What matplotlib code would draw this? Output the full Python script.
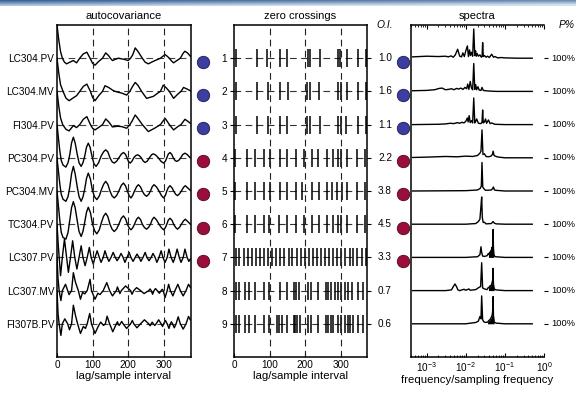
import matplotlib

matplotlib.use("Agg")

import matplotlib.pyplot as plt
import numpy as np

plt.rcParams.update(
    {
        "font.family": ["Liberation Sans", "DejaVu Sans"],
        "font.size": 7,
        "axes.linewidth": 1.1,
        "xtick.major.width": 0.8,
        "ytick.major.width": 0.8,
    }
)

# --- channel table ---------------------------------------------------------
TAGS = ["LC304.PV", "LC304.MV", "FI304.PV", "PC304.PV", "PC304.MV",
        "TC304.PV", "LC307.PV", "LC307.MV", "FI307B.PV"]
OI = ["1.0", "1.6", "1.1", "2.2", "3.8", "4.5", "3.3", "0.7", "0.6"]
PCT = ["100%"] * 9
CLUSTER = ["blue", "blue", "blue", "red", "red", "red", "red", None, None]

# --- autocovariance (lag, normalised value) -------------------------------
ACF1_LAG = [0, 5, 10, 15, 21, 27, 36, 46, 55, 64, 74, 84, 93, 100, 107, 117, 128, 137, 145, 150,
            156, 165, 173, 182, 191, 200, 207, 213, 220, 228, 240, 248, 257, 266, 276, 291, 304, 310,
            316, 322, 328, 336, 347, 355, 360, 368, 375]
ACF1_VAL = [1.0, 0.55, 0.2, 0.0, -0.12, -0.17, -0.12, -0.07, -0.14, 0.0, 0.13, 0.18, 0.0, -0.15,
            -0.21, -0.1, 0.0, 0.16, 0.08, 0.0, -0.07, -0.03, 0.0, -0.02, -0.04, -0.07, 0.0, 0.1, 0.31,
            0.2, 0.0, -0.12, -0.17, -0.12, -0.07, 0.0, 0.11, 0.06, 0.0, -0.08, -0.14, -0.08, 0.0, 0.15,
            0.21, 0.15, 0.06]
ACF2_LAG = [0, 5, 10, 17, 25, 34, 45, 55, 64, 74, 84, 94, 100, 107, 118, 128, 135, 145, 159, 170,
            182, 196, 205, 212, 220, 228, 238, 252, 271, 285, 291, 299, 308, 316, 328, 340, 349, 356,
            366, 375]
ACF2_VAL = [1.0, 0.55, 0.2, 0.0, -0.2, -0.28, -0.2, -0.13, 0.0, 0.15, 0.22, 0.0, -0.18, -0.28,
            -0.12, 0.0, 0.17, 0.12, 0.02, -0.02, -0.05, -0.11, 0.0, 0.14, 0.27, 0.18, 0.0, -0.21,
            -0.15, -0.04, 0.0, 0.19, 0.1, 0.0, -0.21, -0.08, 0.0, 0.12, 0.07, 0.02]
ACF3_LAG = [0, 5, 10, 16, 25, 34, 46, 55, 64, 74, 84, 94, 100, 107, 118, 128, 137, 145, 156, 170,
            182, 196, 205, 212, 220, 228, 240, 257, 276, 291, 304, 310, 316, 328, 340, 349, 360, 368,
            375]
ACF3_VAL = [1.0, 0.55, 0.2, 0.0, -0.14, -0.19, -0.03, -0.09, 0.0, 0.16, 0.24, 0.0, -0.11, -0.16,
            -0.08, 0.0, 0.17, 0.09, -0.07, -0.05, -0.06, -0.11, 0.0, 0.12, 0.29, 0.18, 0.0, -0.21,
            -0.1, 0.0, 0.19, 0.1, 0.0, -0.16, -0.06, 0.0, 0.16, 0.1, 0.04]
ACF4_LAG = [0, 4, 8, 12, 17, 25, 31, 36, 41, 46, 51, 57, 62, 68, 73, 78, 83, 88, 93, 99,
            104, 110, 117, 124, 131, 137, 143, 149, 155, 161, 168, 174, 181, 187, 193, 197, 201, 206,
            211, 216, 222, 227, 232, 237, 243, 248, 254, 260, 266, 271, 278, 285, 293, 300, 305, 309,
            313, 318, 323, 327, 332, 337, 343, 348, 354, 360, 366, 375]
ACF4_VAL = [1.0, 0.6, 0.2, -0.08, -0.22, -0.28, -0.15, 0.1, 0.45, 0.62, 0.45, 0.1, -0.15, -0.26,
            -0.15, 0.05, 0.32, 0.44, 0.32, 0.02, -0.18, -0.26, -0.15, 0.05, 0.18, 0.24, 0.18, 0.0,
            -0.12, -0.16, -0.1, 0.0, 0.11, 0.16, 0.1, 0.0, -0.11, -0.16, -0.1, 0.0, 0.07, 0.09, 0.06,
            0.0, -0.1, -0.14, -0.1, 0.0, 0.09, 0.12, 0.08, 0.0, -0.11, -0.16, -0.1, 0.0, 0.11, 0.16,
            0.1, 0.0, -0.08, -0.11, -0.07, 0.0, 0.1, 0.14, 0.1, 0.0]
ACF5_LAG = [0, 4, 8, 12, 17, 25, 31, 36, 41, 46, 51, 57, 62, 68, 73, 78, 83, 88, 94, 100,
            106, 112, 119, 125, 131, 137, 143, 149, 155, 161, 168, 174, 181, 187, 193, 198, 203, 208,
            213, 218, 224, 229, 235, 240, 246, 252, 258, 263, 268, 273, 280, 287, 294, 300, 305, 309,
            313, 318, 324, 328, 334, 339, 345, 350, 356, 361, 367, 375]
ACF5_VAL = [1.0, 0.6, 0.2, -0.1, -0.25, -0.31, -0.17, 0.12, 0.52, 0.74, 0.52, 0.12, -0.17, -0.31,
            -0.18, 0.06, 0.38, 0.54, 0.36, 0.0, -0.18, -0.26, -0.15, 0.04, 0.2, 0.29, 0.2, 0.0, -0.15,
            -0.21, -0.13, 0.0, 0.17, 0.24, 0.15, 0.0, -0.14, -0.21, -0.13, 0.0, 0.13, 0.19, 0.12, 0.0,
            -0.11, -0.16, -0.1, 0.0, 0.13, 0.19, 0.12, 0.0, -0.14, -0.21, -0.13, 0.0, 0.1, 0.16, 0.09,
            0.0, -0.1, -0.14, -0.08, 0.0, 0.11, 0.16, 0.1, 0.02]
ACF6_LAG = ACF5_LAG
ACF6_VAL = [1.0, 0.55, 0.1, -0.25, -0.4, -0.45, -0.25, 0.12, 0.5, 0.68, 0.5, 0.1, -0.22, -0.37,
            -0.22, 0.06, 0.36, 0.51, 0.35, 0.0, -0.2, -0.29, -0.17, 0.05, 0.24, 0.33, 0.23, 0.0,
            -0.15, -0.22, -0.14, 0.0, 0.18, 0.25, 0.16, 0.0, -0.11, -0.17, -0.11, 0.0, 0.15, 0.21,
            0.14, 0.0, -0.1, -0.15, -0.09, 0.0, 0.14, 0.21, 0.13, 0.0, -0.11, -0.17, -0.1, 0.0, 0.12,
            0.18, 0.11, 0.0, -0.1, -0.15, -0.09, 0.0, 0.1, 0.15, 0.09, 0.0]
ACF7_LAG = [0, 4, 10, 15, 21, 27, 32, 38, 44, 50, 56, 62, 68, 73, 79, 85, 91, 96, 102, 107,
            113, 119, 124, 130, 135, 141, 146, 152, 158, 164, 169, 175, 180, 186, 191, 197, 203, 208,
            214, 220, 225, 231, 236, 242, 248, 253, 259, 265, 270, 276, 281, 287, 293, 298, 304, 310,
            315, 321, 327, 332, 338, 344, 349, 355, 360, 366, 371, 375]
ACF7_VAL = [1.0, 0.3, -0.55, 0.0, 0.55, 0.0, -0.45, 0.0, 0.5, 0.0, -0.35, 0.0, 0.35, 0.0, -0.25,
            0.0, 0.3, 0.0, -0.2, 0.0, 0.2, 0.0, -0.15, 0.0, 0.2, 0.0, -0.12, 0.0, 0.15, 0.0, -0.1, 0.0,
            0.12, 0.0, -0.15, 0.0, 0.15, 0.0, -0.12, 0.0, 0.1, 0.0, -0.12, 0.0, 0.15, 0.0, -0.1, 0.0,
            0.12, 0.0, -0.15, 0.0, 0.2, 0.0, -0.15, 0.0, 0.25, 0.0, -0.15, 0.0, 0.25, 0.0, -0.15, 0.0,
            0.25, 0.0, -0.12, -0.05]
ACF8_LAG = [0, 3, 6, 11, 15, 24, 30, 34, 41, 46, 52, 60, 66, 72, 78, 85, 93, 97, 107, 115,
            121, 130, 140, 148, 156, 167, 170, 174, 177, 181, 193, 207, 211, 216, 224, 235, 245, 258,
            262, 265, 269, 273, 277, 282, 288, 293, 296, 299, 304, 310, 314, 319, 326, 332, 340, 347,
            355, 363, 370, 375]
ACF8_VAL = [1.0, 0.35, 0.0, -0.3, 0.0, 0.19, 0.0, -0.12, 0.0, 0.54, 0.25, 0.0, -0.26, -0.05,
            -0.1, 0.0, 0.34, 0.0, -0.26, -0.08, -0.12, 0.0, 0.24, 0.0, -0.16, 0.0, 0.11, 0.0, -0.09,
            0.0, 0.14, 0.0, -0.11, 0.0, 0.09, 0.0, -0.09, 0.0, 0.05, 0.0, -0.11, 0.0, 0.06, 0.0, -0.08,
            0.0, 0.04, 0.0, -0.21, 0.0, 0.19, 0.0, -0.16, 0.0, 0.19, 0.0, -0.16, 0.0, 0.19, 0.1]
ACF9_LAG = [0, 3, 6, 11, 15, 22, 30, 35, 41, 46, 52, 58, 66, 74, 80, 85, 92, 97, 107, 115,
            120, 123, 127, 131, 136, 141, 148, 157, 167, 170, 172, 175, 178, 182, 186, 196, 207, 212,
            216, 225, 235, 246, 258, 262, 265, 268, 271, 275, 279, 286, 293, 297, 300, 305, 310, 315,
            319, 322, 325, 330, 335, 341, 347, 355, 363, 370, 375]
ACF9_VAL = [1.0, 0.3, 0.0, -0.35, 0.0, 0.15, 0.0, -0.18, 0.0, 0.56, 0.25, 0.0, -0.29, -0.08,
            -0.14, 0.0, 0.31, 0.0, -0.29, -0.1, 0.0, 0.05, 0.0, -0.05, 0.0, 0.23, 0.0, -0.24, 0.0,
            0.06, 0.0, -0.05, 0.0, 0.07, 0.0, -0.14, 0.0, 0.1, 0.0, -0.12, 0.0, 0.12, 0.0, -0.06, 0.0,
            0.05, 0.0, -0.05, 0.0, 0.12, 0.0, -0.08, 0.0, 0.1, 0.0, -0.14, 0.0, 0.06, 0.0, -0.12, 0.0,
            0.21, 0.0, -0.16, 0.0, 0.22, 0.12]

# --- zero-crossing lags ---------------------------------------------------
ZC1 = [5, 64, 93, 128, 149, 207, 213, 240, 291, 298, 316, 347, 370]
ZC2 = [5, 64, 94, 128, 151, 205, 212, 238, 291, 300, 316, 349, 370]
ZC3 = [5, 64, 94, 128, 150, 205, 212, 240, 291, 299, 314, 349, 370]
ZC4 = [4, 36, 58, 85, 102, 128, 148, 174, 195, 218, 235, 260, 277, 291, 300, 316, 344, 368]
ZC5 = [4, 36, 60, 85, 100, 128, 148, 174, 192, 218, 237, 260, 274, 288, 302, 316, 344, 368]
ZC6 = [4, 36, 60, 85, 99, 125, 148, 174, 195, 218, 239, 260, 279, 291, 300, 316, 344, 368]
ZC7 = [5, 15, 27, 38, 50, 61, 73, 84, 95, 107, 119, 130, 141, 153, 164, 176, 187, 198, 210, 221,
       233, 244, 256, 267, 278, 290, 301, 312, 324, 335, 346, 358, 369]
ZC8 = [6, 15, 30, 41, 60, 85, 97, 130, 148, 167, 174, 181, 207, 216, 235, 258, 265, 273, 282, 293,
       299, 310, 319, 332, 347, 363]
ZC9 = [6, 15, 30, 41, 58, 85, 97, 120, 127, 136, 148, 167, 172, 178, 186, 207, 216, 235, 258, 265,
       271, 279, 293, 300, 310, 319, 325, 335, 347, 363]

# --- power spectra (frequency/sampling frequency, normalised power) ------
SP1_F = [4.4e-4, 1e-3, 2e-3, 3e-3, 3.6e-3, 4.2e-3, 4.8e-3, 5.4e-3, 6.2e-3, 7e-3, 7.8e-3, 8.4e-3,
         9.2e-3, 1.0e-2, 1.1e-2, 1.17e-2, 1.25e-2, 1.32e-2, 1.4e-2, 1.5e-2, 1.6e-2, 1.7e-2,
         1.78e-2, 1.85e-2, 1.95e-2, 2.1e-2, 2.3e-2, 2.5e-2, 2.62e-2, 2.7e-2, 2.8e-2, 3.0e-2, 3.3e-2,
         3.6e-2, 4.0e-2, 4.6e-2, 5.1e-2, 5.6e-2, 6.5e-2, 8e-2, 0.1, 0.2, 0.5]
SP1_P = [0.04, 0.06, 0.05, 0.06, 0.04, 0.07, 0.03, 0.1, 0.27, 0.06, 0.04, 0.16, 0.05, 0.22, 0.37,
         0.05, 0.25, 0.08, 0.18, 0.06, 0.88, 0.08, 0.22, 0.06, 0.14, 0.06, 0.1, 0.03, 0.06, 0.47,
         0.05, 0.08, 0.03, 0.06, 0.02, 0.12, 0.03, 0.05, 0.01, 0.02, 0.01, 0.0, 0.0]
SP2_F = [4.4e-4, 1e-3, 1.6e-3, 2.1e-3, 2.5e-3, 3e-3, 3.6e-3, 4.3e-3, 5e-3, 5.8e-3, 6.6e-3, 7.5e-3,
         8.5e-3, 9.5e-3, 1.05e-2, 1.12e-2, 1.2e-2, 1.3e-2, 1.4e-2, 1.5e-2, 1.6e-2, 1.7e-2, 1.8e-2,
         1.9e-2, 2.05e-2, 2.2e-2, 2.45e-2, 2.6e-2, 2.8e-2, 3.2e-2, 4e-2, 6e-2, 0.1, 0.5]
SP2_P = [0.02, 0.03, 0.05, 0.09, 0.1, 0.05, 0.06, 0.08, 0.05, 0.09, 0.07, 0.1, 0.06, 0.12, 0.08,
         0.22, 0.06, 0.3, 0.1, 0.05, 0.84, 0.06, 0.2, 0.05, 0.14, 0.04, 0.03, 0.12, 0.03, 0.02,
         0.01, 0.0, 0.0, 0.0]
SP3_F = [4.4e-4, 2e-3, 3e-3, 4e-3, 5e-3, 6e-3, 7e-3, 8e-3, 9e-3, 1.0e-2, 1.1e-2, 1.15e-2, 1.22e-2,
         1.3e-2, 1.4e-2, 1.5e-2, 1.6e-2, 1.7e-2, 1.8e-2, 1.9e-2, 2.1e-2, 2.4e-2, 2.6e-2, 2.7e-2,
         2.8e-2, 3.0e-2, 3.2e-2, 3.4e-2, 3.8e-2, 4.2e-2, 4.6e-2, 5.5e-2, 0.1, 0.5]
SP3_P = [0.0, 0.01, 0.02, 0.04, 0.03, 0.06, 0.04, 0.07, 0.05, 0.1, 0.2, 0.08, 0.27, 0.06, 0.12,
         0.05, 0.8, 0.05, 0.1, 0.17, 0.04, 0.03, 0.06, 0.44, 0.05, 0.08, 0.17, 0.04, 0.14, 0.03,
         0.05, 0.01, 0.0, 0.0]
SP4_F = [4.4e-4, 1e-3, 3e-3, 6e-3, 1e-2, 1.5e-2, 2e-2, 2.3e-2, 2.45e-2, 2.6e-2, 2.75e-2, 3e-2,
         3.3e-2, 3.8e-2, 4.4e-2, 4.8e-2, 5.0e-2, 5.3e-2, 5.7e-2, 6.3e-2, 7e-2, 0.1, 0.5]
SP4_P = [0.01, 0.02, 0.04, 0.03, 0.05, 0.04, 0.07, 0.14, 0.2, 0.84, 0.1, 0.12, 0.04, 0.03, 0.05,
         0.1, 0.2, 0.07, 0.05, 0.03, 0.02, 0.0, 0.0]
SP5_F = [4.4e-4, 1e-2, 2e-2, 2.35e-2, 2.5e-2, 2.6e-2, 2.72e-2, 2.9e-2, 3.2e-2, 4.5e-2, 4.9e-2,
         5.1e-2, 5.4e-2, 6e-2, 0.1, 0.5]
SP5_P = [0.0, 0.01, 0.03, 0.08, 0.15, 0.86, 0.12, 0.07, 0.02, 0.03, 0.08, 0.12, 0.03, 0.02, 0.0,
         0.0]
SP6_F = [4.4e-4, 1e-2, 1.8e-2, 2.1e-2, 2.3e-2, 2.45e-2, 2.55e-2, 2.65e-2, 2.8e-2, 3.0e-2, 3.3e-2,
         4.5e-2, 5e-2, 5.4e-2, 6e-2, 0.1, 0.5]
SP6_P = [0.0, 0.0, 0.02, 0.08, 0.15, 0.55, 0.82, 0.2, 0.05, 0.06, 0.01, 0.02, 0.08, 0.03, 0.01,
         0.0, 0.0]
SP7_F = [4.4e-4, 1e-2, 2e-2, 2.3e-2, 2.45e-2, 2.55e-2, 2.7e-2, 3e-2, 3.5e-2, 3.8e-2, 4.0e-2,
         4.1e-2, 4.2e-2, 4.3e-2, 4.4e-2, 4.5e-2, 4.6e-2, 4.7e-2, 4.8e-2, 4.9e-2, 5.0e-2, 5.1e-2,
         5.2e-2, 5.4e-2, 5.8e-2, 0.1, 0.5]
SP7_P = [0.0, 0.0, 0.02, 0.08, 0.32, 0.15, 0.04, 0.03, 0.05, 0.12, 0.08, 0.15, 0.1, 0.18, 0.12,
         0.22, 0.15, 0.3, 0.2, 0.45, 0.84, 0.3, 0.1, 0.04, 0.02, 0.0, 0.0]
SP8_F = [4.4e-4, 3e-3, 4.3e-3, 4.8e-3, 5.3e-3, 5.8e-3, 6.3e-3, 7e-3, 9e-3, 1.0e-2, 1.2e-2, 1.3e-2,
         1.8e-2, 2.2e-2, 2.4e-2, 2.55e-2, 2.7e-2, 3e-2, 3.5e-2, 3.8e-2, 4.0e-2, 4.2e-2, 4.4e-2,
         4.6e-2, 4.8e-2, 4.9e-2, 5.0e-2, 5.1e-2, 5.3e-2, 6e-2, 0.1, 0.5]
SP8_P = [0.0, 0.0, 0.02, 0.12, 0.2, 0.12, 0.02, 0.0, 0.04, 0.01, 0.05, 0.01, 0.03, 0.1, 0.12, 0.84,
         0.08, 0.05, 0.03, 0.1, 0.08, 0.15, 0.12, 0.2, 0.28, 0.35, 0.67, 0.2, 0.05, 0.02, 0.0, 0.0]
SP9_F = [4.4e-4, 1e-2, 1.8e-2, 2.1e-2, 2.3e-2, 2.45e-2, 2.55e-2, 2.7e-2, 2.9e-2, 3.2e-2, 3.6e-2,
         3.9e-2, 4.1e-2, 4.3e-2, 4.5e-2, 4.7e-2, 4.85e-2, 5.0e-2, 5.1e-2, 5.3e-2, 6e-2, 0.1, 0.5]
SP9_P = [0.0, 0.0, 0.04, 0.08, 0.22, 0.15, 0.84, 0.12, 0.06, 0.04, 0.05, 0.1, 0.12, 0.15, 0.2,
         0.25, 0.35, 0.82, 0.25, 0.05, 0.02, 0.0, 0.0]

ACF = [(ACF1_LAG, ACF1_VAL), (ACF2_LAG, ACF2_VAL), (ACF3_LAG, ACF3_VAL), (ACF4_LAG, ACF4_VAL),
       (ACF5_LAG, ACF5_VAL), (ACF6_LAG, ACF6_VAL), (ACF7_LAG, ACF7_VAL), (ACF8_LAG, ACF8_VAL),
       (ACF9_LAG, ACF9_VAL)]
ZC = [ZC1, ZC2, ZC3, ZC4, ZC5, ZC6, ZC7, ZC8, ZC9]
SPEC = [(SP1_F, SP1_P), (SP2_F, SP2_P), (SP3_F, SP3_P), (SP4_F, SP4_P), (SP5_F, SP5_P),
        (SP6_F, SP6_P), (SP7_F, SP7_P), (SP8_F, SP8_P), (SP9_F, SP9_P)]

COLORS = {"blue": ("#3b3d9f", "#1c1c55"), "red": ("#9b0d3a", "#4d0a1c")}
DASH = (0, (6, 4))
ROWS = np.arange(1, 10)
FS = 7.2

W, H = 576, 396


def box(left, right, top=25, bottom=357):
    return [left / W, 1 - bottom / H, (right - left) / W, (bottom - top) / H]


fig = plt.figure(figsize=(W / 100, H / 100), dpi=100)

# slide header strip: dark on the left/top, fading to the right/bottom
hdr = fig.add_axes([0, 1 - 6 / H, 1, 6 / H])
gy = np.linspace(0, 1, 6)[:, None]
gx = np.linspace(0, 0.35, 80)[None, :]
hdr.imshow(np.clip(gy * 0.8 + gx, 0, 1), aspect="auto", vmin=0, vmax=1,
           cmap=matplotlib.colors.LinearSegmentedColormap.from_list(
               "hdr", ["#3a6499", "#d4dfec"]), extent=[0, 1, 0, 1])
hdr.axis("off")

ax_acf = fig.add_axes(box(57, 191))
ax_zc = fig.add_axes(box(234, 367))
ax_sp = fig.add_axes(box(411, 544))

# autocovariance
for row, (lags, vals) in zip(ROWS, ACF):
    ax_acf.axhline(row, color="#444444", lw=0.8, ls=DASH)
    ax_acf.plot(lags, row - np.asarray(vals), color="k", lw=1.0)
for lag in (100, 200, 300):
    ax_acf.axvline(lag, color="#222222", lw=0.8, ls=DASH)
ax_acf.set_xlim(0, 377)
ax_acf.set_ylim(10, 0)
ax_acf.set_yticks(ROWS)
ax_acf.set_yticklabels(TAGS, fontsize=FS)
ax_acf.set_xticks([0, 100, 200, 300])
ax_acf.tick_params(direction="in", length=3, labelsize=FS, pad=2)
ax_acf.set_xlabel("lag/sample interval", fontsize=8.2, labelpad=1)
ax_acf.set_title("autocovariance", fontsize=8, pad=4)

# zero crossings
for row, lags in zip(ROWS, ZC):
    ax_zc.axhline(row, color="#333333", lw=0.8, ls=DASH)
    ax_zc.vlines(lags, row - 0.27, row + 0.27, color="k", lw=1.1)
for lag in (100, 200, 300):
    ax_zc.axvline(lag, color="#222222", lw=0.8, ls=DASH)
ax_zc.set_xlim(0, 373)
ax_zc.set_ylim(10, 0)
ax_zc.set_yticks(ROWS)
ax_zc.set_yticklabels([str(r) for r in ROWS], fontsize=FS)
ax_zc.set_xticks([0, 100, 200, 300])
ax_zc.tick_params(axis="x", direction="in", length=3, labelsize=FS, pad=2)
ax_zc.tick_params(axis="y", direction="out", length=3, pad=2, right=True)
ax_zc.set_xlabel("lag/sample interval", fontsize=8.2, labelpad=1)
ax_zc.set_title("zero crossings", fontsize=8, pad=4)

# spectra
ax_sp.set_xscale("log")
for row, (freq, pw) in zip(ROWS, SPEC):
    freq = np.asarray(freq)
    y = row - np.asarray(pw)
    ax_sp.plot(freq, y, color="k", lw=1.0)
    if row >= 7:
        ax_sp.fill_between(freq, y, row, where=(freq >= 3.6e-2) & (freq <= 5.3e-2),
                           color="k", lw=0)
ax_sp.set_xlim(10 ** -3.4, 1)
ax_sp.set_ylim(10, 0)
ax_sp.set_xticks([1e-3, 1e-2, 1e-1, 1])
ax_sp.set_yticks(ROWS)
ax_sp.set_yticklabels([])
ax_sp.tick_params(axis="x", which="both", direction="in", top=True, labelsize=FS, pad=2)
ax_sp.tick_params(axis="x", which="major", length=3)
ax_sp.tick_params(axis="x", which="minor", length=1.5)
ax_sp.tick_params(axis="y", left=False, right=True, direction="out", length=3)
ax_sp.spines["right"].set_visible(False)
ax_sp.set_xlabel("frequency/sampling frequency", fontsize=8.2, labelpad=1)
ax_sp.set_title("spectra", fontsize=8, pad=4)

# overlay for cluster markers and side labels
ov = fig.add_axes(box(0, W), zorder=-1)
ov.set_xlim(0, W)
ov.set_ylim(10, 0)
ov.axis("off")
for row, grp, oi, pct in zip(ROWS, CLUSTER, OI, PCT):
    if grp is not None:
        face, edge = COLORS[grp]
        ov.scatter([203, 403], [row + 0.1, row + 0.1], s=80, color=face,
                   edgecolors=edge, linewidths=0.6, zorder=3)
    ov.text(385, row, oi, ha="center", va="center", fontsize=FS)
    ov.text(575, row, pct, ha="right", va="center", fontsize=6.7)
ov.text(385, 0.0, "O.I.", ha="center", va="center", fontsize=7.4, style="italic")
ov.text(567, 0.0, "P%", ha="center", va="center", fontsize=7.4, style="italic")

fig.savefig("out.png", dpi=100)
